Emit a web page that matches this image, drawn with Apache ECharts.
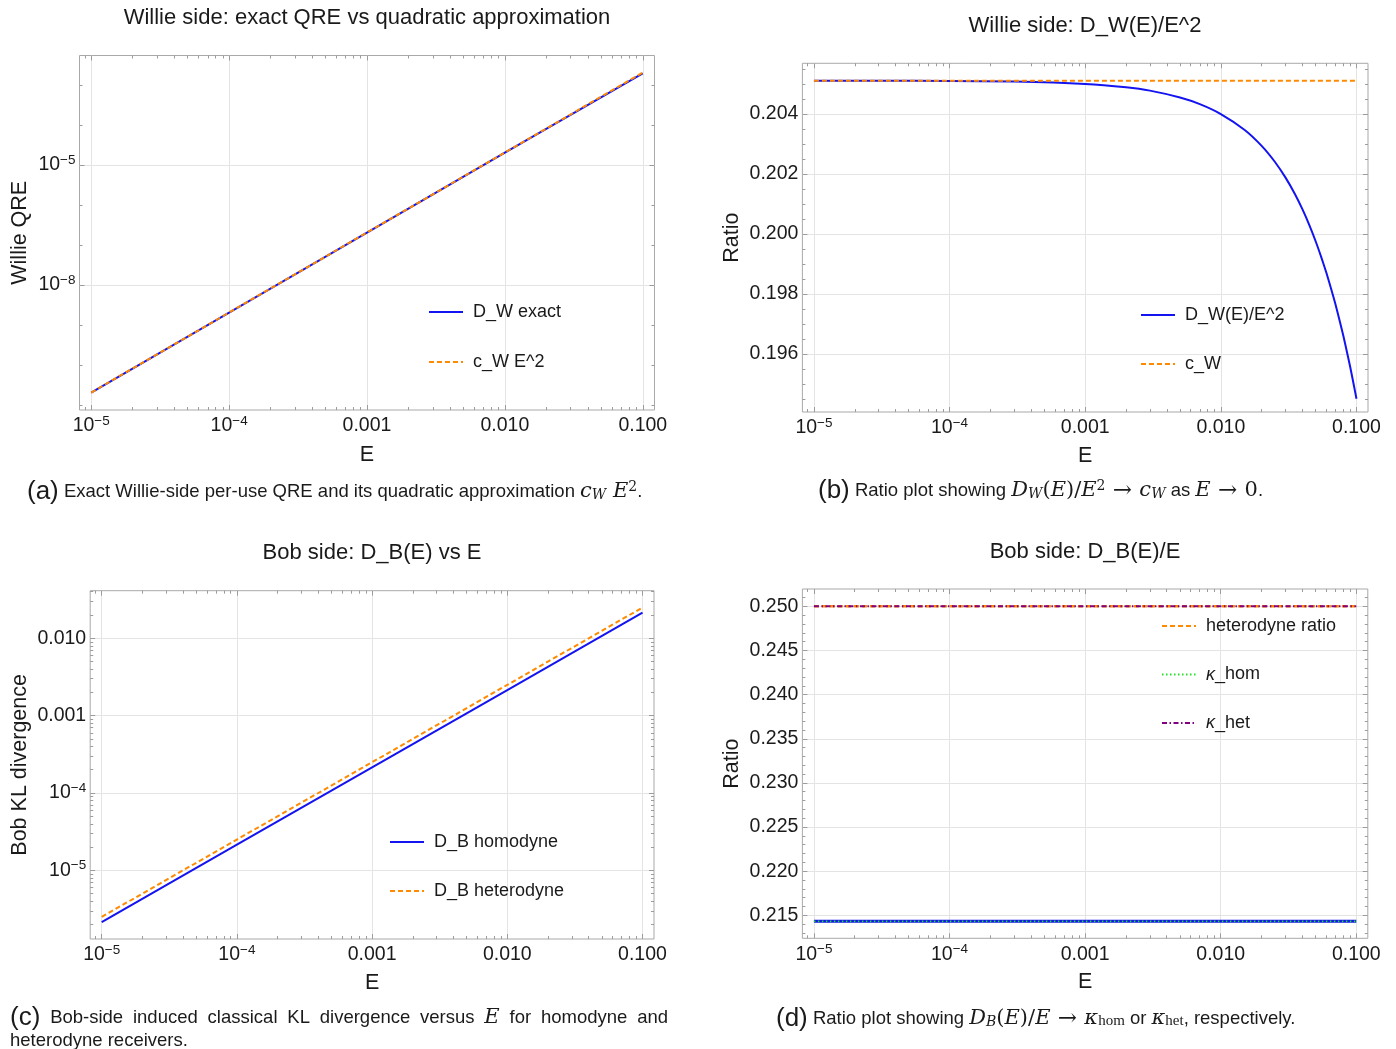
<!DOCTYPE html>
<html><head><meta charset="utf-8">
<script src="https://cdn.jsdelivr.net/npm/echarts@6/dist/echarts.min.js"></script>
<style>html,body{margin:0;padding:0;background:#fff}#c{width:1396px;height:1049px}</style>
</head><body><div id="c"></div>
<script>
// ---------------- data ----------------
// (a) Willie side QRE
const E_a = [1e-5, 1e-4, 1e-3, 1e-2, 1e-1];
const DW_exact = [2.051e-11, 2.051e-9, 2.050e-7, 2.040e-5, 1.946e-3];
const cW_E2 = [2.051e-11, 2.051e-9, 2.051e-7, 2.051e-5, 2.051e-3];
// (b) ratio D_W(E)/E^2
const E_b = [1e-5, 3e-5, 1e-4, 3e-4, 1e-3, 2e-3, 3e-3, 5e-3, 7e-3, 0.01, 0.015, 0.02, 0.025, 0.03, 0.035, 0.04, 0.045, 0.05, 0.055, 0.06, 0.065, 0.07, 0.075, 0.08, 0.085, 0.09, 0.095, 0.1];
const ratio_W = [0.20511, 0.20511, 0.20510, 0.20508, 0.20500, 0.20489, 0.20478, 0.20455, 0.20433, 0.20400, 0.20347, 0.20294, 0.20241, 0.20188, 0.20135, 0.20082, 0.20029, 0.19976, 0.19923, 0.19871, 0.19818, 0.19766, 0.19713, 0.19661, 0.19608, 0.19556, 0.19503, 0.19451];
const E_line = [1e-5, 1e-4, 1e-3, 1e-2, 1e-1];
const cW_line = [0.20511, 0.20511, 0.20511, 0.20511, 0.20511];
// (c) Bob side KL divergence
const E_c = [1e-5, 1e-4, 1e-3, 1e-2, 1e-1];
const DB_hom = [2.143e-6, 2.143e-5, 2.143e-4, 2.143e-3, 2.143e-2];
const DB_het = [2.5e-6, 2.5e-5, 2.5e-4, 2.5e-3, 2.5e-2];
// (d) ratio D_B(E)/E
const hom_ratio = [0.21432, 0.21432, 0.21432, 0.21432, 0.21432];
const het_ratio = [0.25, 0.25, 0.25, 0.25, 0.25];
const kappa_hom = [0.21432, 0.21432, 0.21432, 0.21432, 0.21432];
const kappa_het = [0.25, 0.25, 0.25, 0.25, 0.25];
// tick labels
const xMajor = [1e-5, 1e-4, 1e-3, 1e-2, 1e-1];
const yMajor_a = [1e-8, 1e-5];
const yMinor_a = [1e-11, 1e-10, 1e-9, 1e-7, 1e-6, 1e-4, 1e-3];
const yMajor_b = [0.196, 0.198, 0.200, 0.202, 0.204];
const yMajor_c = [1e-5, 1e-4, 1e-3, 1e-2];
const yMajor_d = [0.215, 0.220, 0.225, 0.230, 0.235, 0.240, 0.245, 0.250];

// ---------------- styling helpers ----------------
const FONT = '"Liberation Sans", Arial, Helvetica, sans-serif';
const SERIF = '"DejaVu Serif", "Liberation Serif", serif';
const SERIF2 = '"Liberation Serif", "DejaVu Serif", serif';
const TXT = '#1a1a1a', TICK = '#9c9c9c', GRIDC = '#e4e4e4', FRAME = '#a9a9a9';
const BLUE = '#1414f0', ORANGE = '#ff8a00', GREEN = '#22e022', PURPLE = '#800080';
const XMIN = Math.pow(10, -5.085), XMAX = Math.pow(10, -0.915);

function zip(xs, ys) { return xs.map((x, i) => [x, ys[i]]); }
function logMinors(lo, hi) {
  const out = [];
  for (let k = -12; k <= 1; k++) for (let m = 2; m <= 9; m++) {
    const v = m * Math.pow(10, k);
    if (v >= lo && v <= hi) out.push(v);
  }
  return out;
}
function linMinors(lo, hi, step, majors) {
  const out = [];
  const s = Math.ceil(lo / step - 1e-9), e = Math.floor(hi / step + 1e-9);
  for (let i = s; i <= e; i++) {
    const v = +(i * step).toFixed(6);
    if (!majors.some(m => Math.abs(m - v) < step / 10)) out.push(v);
  }
  return out;
}
function logFmt(v) {
  const k = Math.round(Math.log10(v));
  if (k >= -3) return Math.pow(10, k).toFixed(3);
  return '10{s|\u2212' + (-k) + '}';
}
function linFmt(v) { return (+v).toFixed(3); }

const richLab = { s: { fontSize: 13.5, lineHeight: 13, verticalAlign: 'top', fontFamily: FONT, color: TXT } };

function tick(vals, len) {
  return { show: true, inside: true, length: len, customValues: vals, lineStyle: { color: TICK, width: 1 } };
}
function makeAxes(dim, gi, cfg) {
  const posA = dim === 'x' ? 'bottom' : 'left';
  const posB = dim === 'x' ? 'top' : 'right';
  const common = { gridIndex: gi, type: cfg.type, min: cfg.min, max: cfg.max, silent: true,
    axisLine: { show: false }, splitLine: { show: false }, axisLabel: { show: false }, axisTick: { show: false } };
  if (cfg.type === 'log') common.logBase = 10;
  const main = Object.assign({}, common, {
    position: posA,
    name: cfg.name, nameLocation: 'middle', nameGap: cfg.nameGap,
    nameTextStyle: { fontSize: 21.5, fontFamily: FONT, color: TXT },
    axisTick: tick(cfg.major, 5),
    axisLabel: { show: true, customValues: cfg.major, formatter: cfg.fmt, margin: cfg.margin,
      fontSize: 19.5, fontFamily: FONT, color: TXT, lineHeight: 24, rich: richLab },
    splitLine: { show: true, lineStyle: { color: GRIDC, width: 1 } }
  });
  const minorA = Object.assign({}, common, { position: posA, axisTick: tick(cfg.minor, 3) });
  const majorB = Object.assign({}, common, { position: posB, axisTick: tick(cfg.major, 5) });
  const minorB = Object.assign({}, common, { position: posB, axisTick: tick(cfg.minor, 3) });
  return [main, minorA, majorB, minorB];
}

const grids = [
  { left: 79.5, top: 55.5, width: 575, height: 354.5 },
  { left: 802.4, top: 63.3, width: 565.6, height: 348.7 },
  { left: 90.2, top: 590.7, width: 563.8, height: 348.3 },
  { left: 802.4, top: 589, width: 565.4, height: 349.3 }
].map(g => Object.assign(g, { show: true, borderColor: FRAME, borderWidth: 1, backgroundColor: 'transparent' }));

const xCfg = (nameGap) => ({ type: 'log', min: XMIN, max: XMAX, major: xMajor, minor: logMinors(XMIN, XMAX),
  fmt: logFmt, margin: 4, name: 'E', nameGap: nameGap });

const yA = { min: Math.pow(10, -11.125), max: Math.pow(10, -2.2625) };
const yC = { min: Math.pow(10, -5.888), max: Math.pow(10, -1.3845) };
const yB = { min: 0.19407, max: 0.20569 };
const yD = { min: 0.2124, max: 0.25196 };

let xAxes = [], yAxes = [];
xAxes = xAxes.concat(makeAxes('x', 0, xCfg(34)));
xAxes = xAxes.concat(makeAxes('x', 1, xCfg(33)));
xAxes = xAxes.concat(makeAxes('x', 2, xCfg(33)));
xAxes = xAxes.concat(makeAxes('x', 3, xCfg(33)));

yAxes = yAxes.concat(makeAxes('y', 0, { type: 'log', min: yA.min, max: yA.max, major: yMajor_a, minor: yMinor_a,
  fmt: logFmt, margin: 4, name: 'Willie QRE', nameGap: 48 }));
yAxes = yAxes.concat(makeAxes('y', 1, { type: 'value', min: yB.min, max: yB.max, major: yMajor_b,
  minor: linMinors(yB.min, yB.max, 0.0005, yMajor_b), fmt: linFmt, margin: 4, name: 'Ratio', nameGap: 59 }));
yAxes = yAxes.concat(makeAxes('y', 2, { type: 'log', min: yC.min, max: yC.max, major: yMajor_c,
  minor: logMinors(yC.min, yC.max), fmt: logFmt, margin: 4, name: 'Bob KL divergence', nameGap: 59 }));
yAxes = yAxes.concat(makeAxes('y', 3, { type: 'value', min: yD.min, max: yD.max, major: yMajor_d,
  minor: linMinors(yD.min, yD.max, 0.001, yMajor_d), fmt: linFmt, margin: 4, name: 'Ratio', nameGap: 59 }));

function line(name, gi, data, color, type, width, extra) {
  return Object.assign({
    type: 'line', name: name, xAxisIndex: gi * 4, yAxisIndex: gi * 4, data: data,
    symbol: 'none', showSymbol: false, silent: true, clip: true,
    itemStyle: { color: color },
    lineStyle: { color: color, width: width || 2, type: type || 'solid' }
  }, extra || {});
}

const series = [
  line('D_W exact', 0, zip(E_a, DW_exact), BLUE, 'solid', 2),
  line('c_W E^2', 0, zip(E_a, cW_E2), ORANGE, [5, 3], 2),
  line('D_W(E)/E^2', 1, zip(E_b, ratio_W), BLUE, 'solid', 2, { smooth: 0.2 }),
  line('c_W', 1, zip(E_line, cW_line), ORANGE, [5, 3], 2),
  line('D_B homodyne', 2, zip(E_c, DB_hom), BLUE, 'solid', 2),
  line('D_B heterodyne', 2, zip(E_c, DB_het), ORANGE, [5, 3], 2),
  line('homodyne ratio', 3, zip(E_line, hom_ratio), BLUE, 'solid', 3),
  line('heterodyne ratio', 3, zip(E_line, het_ratio), ORANGE, [5, 3], 2.5),
  line('κ_hom', 3, zip(E_line, kappa_hom), GREEN, [1.5, 2.5], 1.6),
  line('κ_het', 3, zip(E_line, kappa_het), PURPLE, [5, 2.5, 1.5, 2.5], 2)
];

function legend(names, left, top, gap) {
  return {
    data: names, orient: 'vertical', left: left, top: top, itemGap: gap,
    itemWidth: 34, itemHeight: 12, selectedMode: false, padding: 0,
    itemStyle: { opacity: 0, borderWidth: 0 },
    formatter: n => n.replace('κ', '{k|κ}'),
    textStyle: { fontSize: 18, fontFamily: FONT, color: TXT, lineHeight: 20, padding: [0, 0, 0, 5],
      rich: { k: { fontSize: 18, fontFamily: FONT, fontStyle: 'italic', color: TXT } } }
  };
}
const legends = [
  legend(['D_W exact', 'c_W E^2'], 428, 302, 30),
  legend(['D_W(E)/E^2', 'c_W'], 1140, 305, 29),
  legend(['D_B homodyne', 'D_B heterodyne'], 389, 832, 29),
  legend(['heterodyne ratio', 'κ_hom', 'κ_het'], 1161, 616, 28.5)
];

// ---------------- titles and captions ----------------
function title(text, x, y) {
  return { type: 'text', x: x, y: y, silent: true,
    style: { text: text, fontSize: 22, fontFamily: FONT, fill: TXT, align: 'center', verticalAlign: 'middle' } };
}
const capRich = {
  lab: { fontSize: 26, fontFamily: FONT, fill: TXT, lineHeight: 30 },
  t: { fontSize: 18.5, fontFamily: FONT, fill: TXT },
  r: { fontSize: 21, fontFamily: SERIF, fill: TXT },
  ar: { fontSize: 23, fontFamily: SERIF, fill: TXT },
  m: { fontSize: 21, fontFamily: SERIF, fontStyle: 'italic', fill: TXT },
  sub: { fontSize: 14, fontFamily: SERIF, fontStyle: 'italic', fill: TXT, lineHeight: 13, verticalAlign: 'bottom', padding: [0, 0, 5, 0] },
  subr: { fontSize: 15, fontFamily: SERIF2, fill: TXT, lineHeight: 13, verticalAlign: 'bottom', padding: [0, 0, 5, 0] },
  sup: { fontSize: 14, fontFamily: SERIF, fill: TXT, lineHeight: 13, verticalAlign: 'top', padding: [3, 0, 0, 0] }
};
function caption(text, x, y) {
  return { type: 'text', x: x, y: y, silent: true,
    style: { text: text, rich: capRich, align: 'left', verticalAlign: 'middle', fill: TXT, fontFamily: FONT, fontSize: 18.5 } };
}

const graphics = [
  title('Willie side: exact QRE vs quadratic approximation', 367, 18),
  title('Willie side: D_W(E)/E^2', 1085, 26),
  title('Bob side: D_B(E) vs E', 372, 553),
  title('Bob side: D_B(E)/E', 1085, 552),
  caption('{lab|(a)} {t|Exact Willie-side per-use QRE and its quadratic approximation }{m|c}{sub|W}{m| E}{sup|2}{t|.}', 27, 492),
  caption('{lab|(b)} {t|Ratio plot showing }{m|D}{sub|W}{r|(}{m|E}{r|)/}{m|E}{sup|2}{ar| \u2192 }{m|c}{sub|W}{t| as }{m|E}{ar| \u2192 }{r|0}{t|.}', 818, 491),
  caption('{lab|(d)} {t|Ratio plot showing }{m|D}{sub|B}{r|(}{m|E}{r|)/}{m|E}{ar| \u2192 }{m|\u03ba}{subr|hom}{t| or }{m|\u03ba}{subr|het}{t|, respectively.}', 776, 1019)
];

// caption (c): justified first line
(function () {
  const ctx = document.createElement('canvas').getContext('2d');
  const fLab = '26px ' + FONT, fT = '18.5px ' + FONT, fM = 'italic 21px ' + SERIF;
  const words = [['(c)', fLab, 26, FONT, 'normal'], ['Bob-side', fT, 18.5, FONT, 'normal'], ['induced', fT, 18.5, FONT, 'normal'],
    ['classical', fT, 18.5, FONT, 'normal'], ['KL', fT, 18.5, FONT, 'normal'], ['divergence', fT, 18.5, FONT, 'normal'],
    ['versus', fT, 18.5, FONT, 'normal'], ['E', fM, 21, SERIF, 'italic'], ['for', fT, 18.5, FONT, 'normal'],
    ['homodyne', fT, 18.5, FONT, 'normal'], ['and', fT, 18.5, FONT, 'normal']];
  const widths = words.map(w => { ctx.font = w[1]; return ctx.measureText(w[0]).width; });
  const total = widths.reduce((a, b) => a + b, 0);
  const x0 = 10, x1 = 668;
  const gap = (x1 - x0 - total) / (words.length - 1);
  let x = x0;
  words.forEach((w, i) => {
    graphics.push({ type: 'text', x: x, y: 1018, silent: true,
      style: { text: w[0], fontSize: w[2], fontFamily: w[3], fontStyle: w[4], fill: TXT, align: 'left', verticalAlign: 'middle' } });
    x += widths[i] + gap;
  });
  graphics.push({ type: 'text', x: 10, y: 1041, silent: true,
    style: { text: 'heterodyne receivers.', fontSize: 18.5, fontFamily: FONT, fill: TXT, align: 'left', verticalAlign: 'middle' } });
})();

const chart = echarts.init(document.getElementById('c'), null, { renderer: 'canvas' });
chart.setOption({
  animation: false,
  backgroundColor: '#ffffff',
  grid: grids,
  xAxis: xAxes,
  yAxis: yAxes,
  legend: legends,
  series: series,
  graphic: graphics
});
</script>
</body></html>
